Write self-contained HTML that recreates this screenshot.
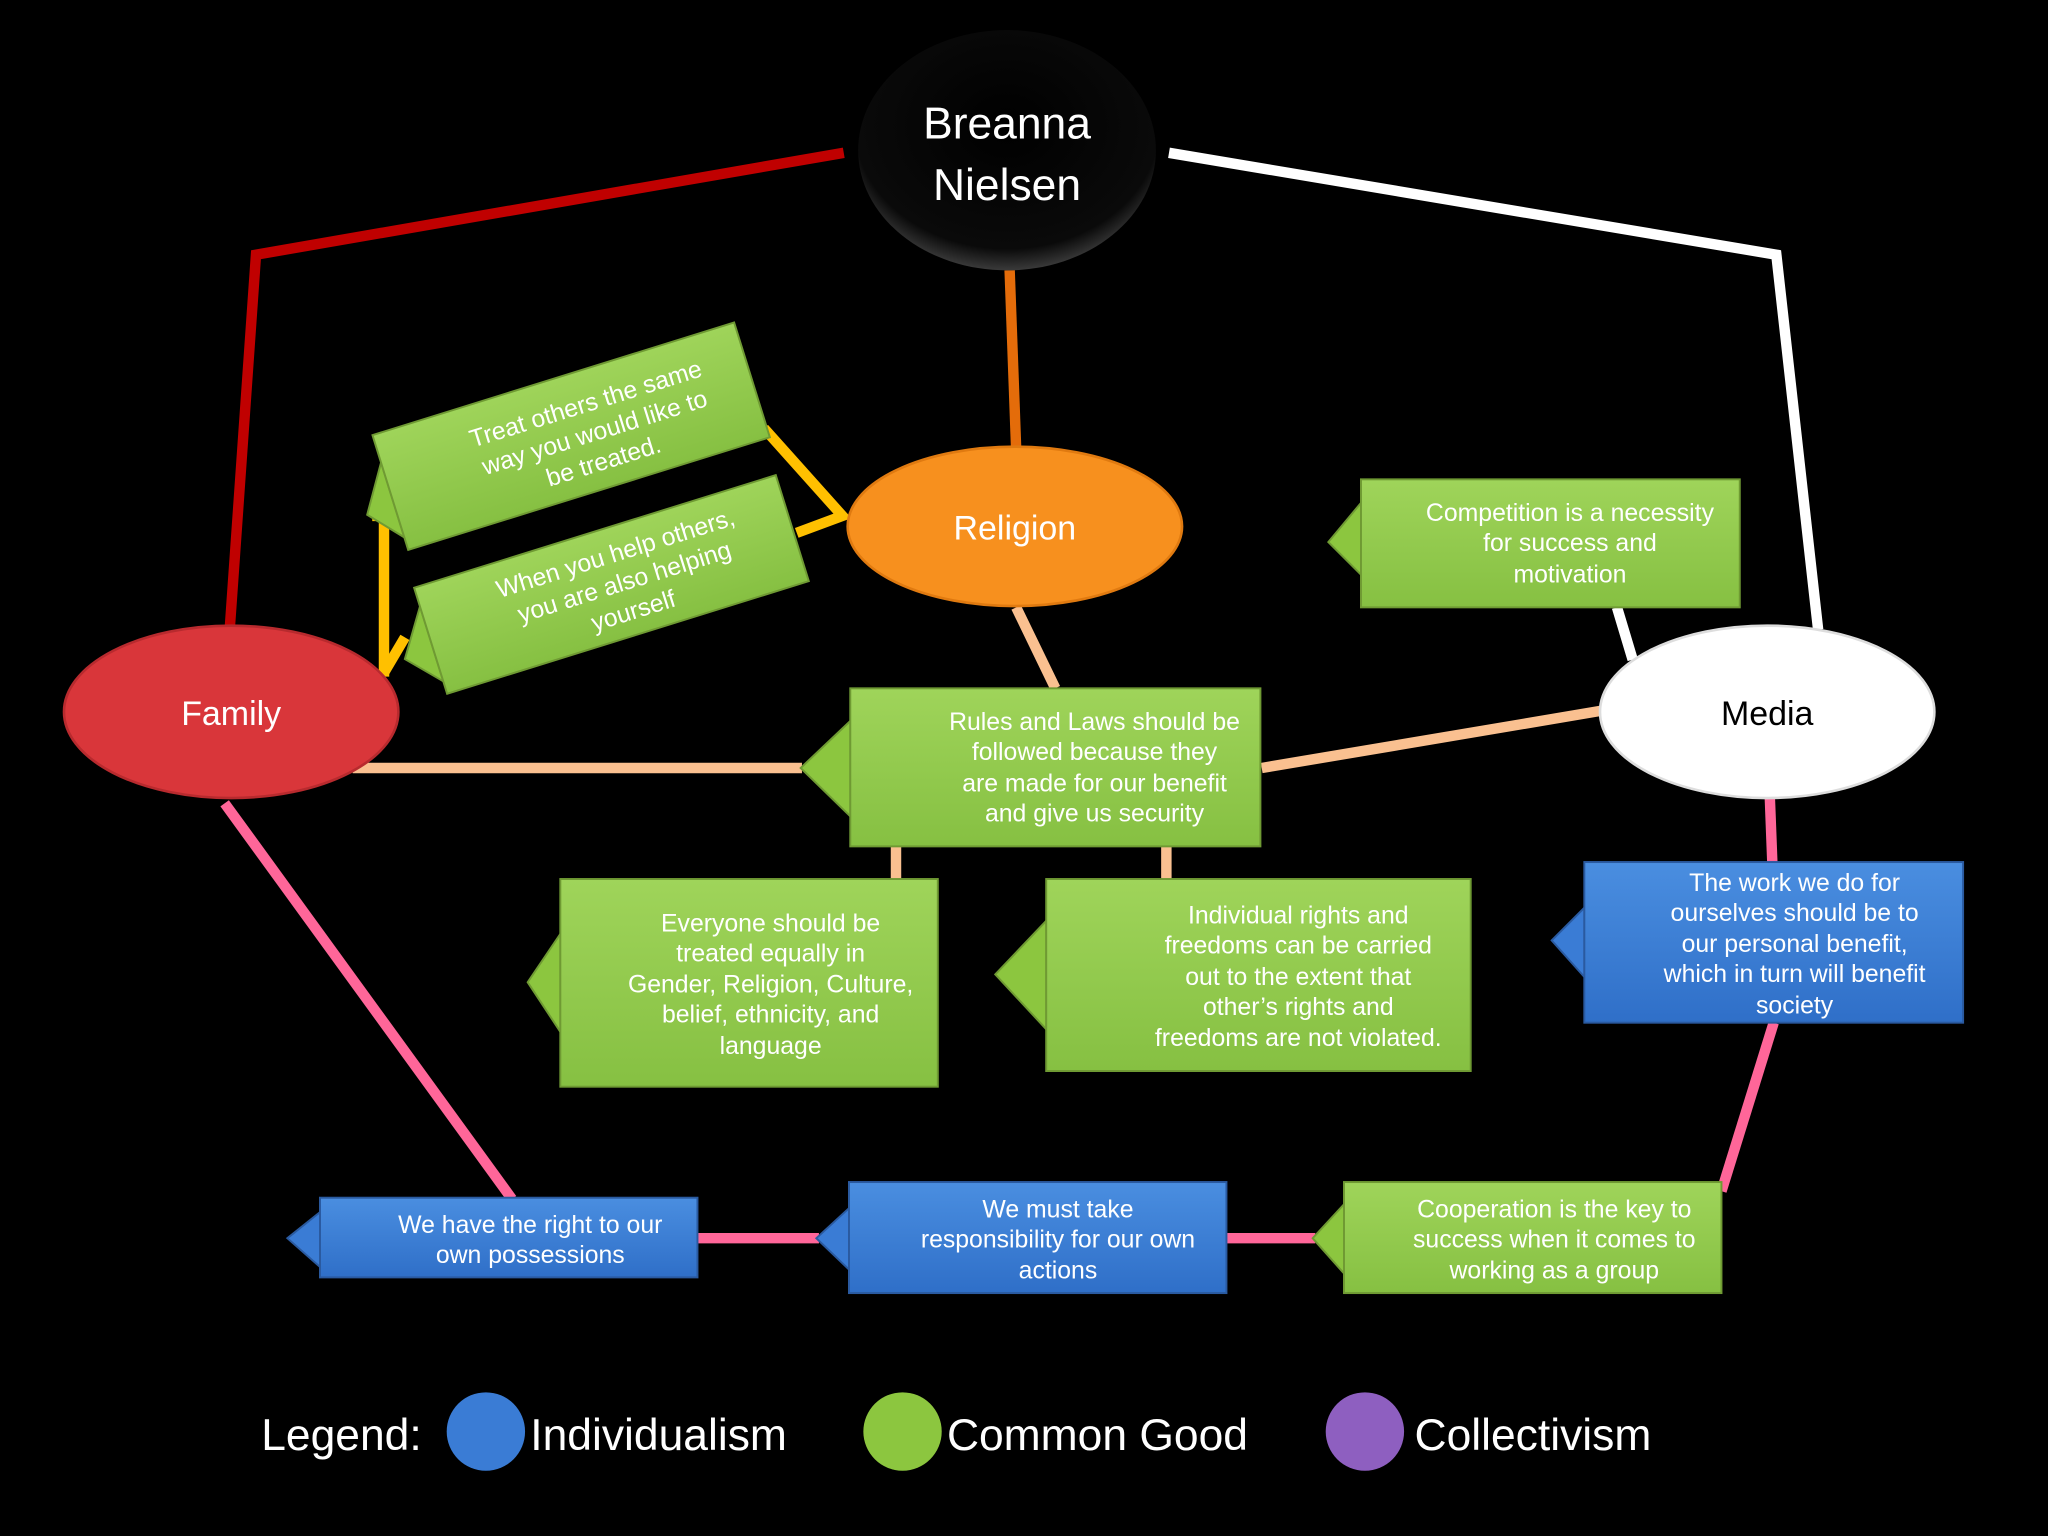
<!DOCTYPE html>
<html><head><meta charset="utf-8"><style>
html,body{margin:0;padding:0;background:#000;}
svg{display:block}
text{font-family:"Liberation Sans","DejaVu Sans",sans-serif;fill:#fff;}
</style></head><body>
<svg width="2048" height="1536" viewBox="0 0 1568 1176" xmlns="http://www.w3.org/2000/svg">
<defs>
<radialGradient id="gBlack" cx="50%" cy="40%" r="60%"><stop offset="0" stop-color="#000"/><stop offset="0.85" stop-color="#0a0a0a"/><stop offset="1" stop-color="#3a3a3a"/></radialGradient>
<linearGradient id="gGreen" x1="0" y1="0" x2="0" y2="1"><stop offset="0" stop-color="#9fd45a"/><stop offset="1" stop-color="#86c042"/></linearGradient>
<linearGradient id="gBlue" x1="0" y1="0" x2="0" y2="1"><stop offset="0" stop-color="#4a8ee0"/><stop offset="1" stop-color="#2f6fc8"/></linearGradient>
</defs>
<rect width="1568" height="1176" fill="#000"/>

<!-- connectors -->
<g fill="none" stroke-width="8" stroke-linejoin="miter">
<polyline points="646,117 196,195 176,480" stroke="#c00000"/>
<polyline points="895,117 1360,195 1392,482" stroke="#fff"/>
<line x1="1238" y1="465" x2="1250" y2="505" stroke="#fff"/>
<line x1="773" y1="207" x2="778" y2="344" stroke="#e46c0a"/>
<line x1="778" y1="465" x2="808" y2="527" stroke="#fac090"/>
<line x1="270" y1="588" x2="614" y2="588" stroke="#fac090"/>
<line x1="966" y1="588" x2="1227" y2="544" stroke="#fac090"/>
<line x1="686" y1="646" x2="686" y2="674" stroke="#fac090"/>
<line x1="893" y1="646" x2="893" y2="674" stroke="#fac090"/>
<polyline points="585,328 645,395 610,408" stroke="#ffc000"/>
<polyline points="285,395 294,395 294,518" stroke="#ffc000"/>
<line x1="294" y1="515" x2="310" y2="488" stroke="#ffc000"/>
<line x1="172" y1="615" x2="392" y2="918" stroke="#ff6699"/>
<line x1="1355" y1="610" x2="1357" y2="662" stroke="#ff6699"/>
<line x1="1358" y1="783" x2="1318" y2="912" stroke="#ff6699"/>
<line x1="534" y1="948" x2="627" y2="948" stroke="#ff6699"/>
<line x1="939" y1="948" x2="1007" y2="948" stroke="#ff6699"/>
</g>

<!-- ellipses -->
<ellipse cx="771" cy="115" rx="114" ry="92" fill="url(#gBlack)"/>
<text x="771" y="106" font-size="34" text-anchor="middle">Breanna</text>
<text x="771" y="153" font-size="34" text-anchor="middle">Nielsen</text>

<ellipse cx="777" cy="403" rx="128" ry="61" fill="#f7901e" stroke="#e07a10" stroke-width="2"/>
<text x="777" y="413" font-size="26" text-anchor="middle">Religion</text>

<ellipse cx="177" cy="545" rx="128" ry="66" fill="#d9363a" stroke="#b82a2e" stroke-width="2"/>
<text x="177" y="555" font-size="26" text-anchor="middle">Family</text>

<ellipse cx="1353" cy="545" rx="128" ry="66" fill="#fff" stroke="#ddd" stroke-width="2"/>
<text x="1353" y="555" font-size="26" text-anchor="middle" style="fill:#000">Media</text>

<!-- green boxes -->
<g stroke="#6f9a33" stroke-width="1.5">
<polygon points="1042,385 1017,415 1042,440" fill="#8cc63f"/>
<rect x="1042" y="367" width="290" height="98" fill="url(#gGreen)"/>
<polygon points="651,552 613,588 651,625" fill="#8cc63f"/>
<rect x="651" y="527" width="314" height="121" fill="url(#gGreen)"/>
<polygon points="429,715 404,752 429,790" fill="#8cc63f"/>
<rect x="429" y="673" width="289" height="159" fill="url(#gGreen)"/>
<polygon points="801,705 762,746 801,788" fill="#8cc63f"/>
<rect x="801" y="673" width="325" height="147" fill="url(#gGreen)"/>
<polygon points="1029,922 1005,948 1029,975" fill="#8cc63f"/>
<rect x="1029" y="905" width="289" height="85" fill="url(#gGreen)"/>
</g>
<g stroke="#2a5aa0" stroke-width="1.5">
<polygon points="1213,695 1188,720 1213,748" fill="#3a7cd5"/>
<rect x="1213" y="660" width="290" height="123" fill="url(#gBlue)"/>
<polygon points="245,928 220,948 245,970" fill="#3a7cd5"/>
<rect x="245" y="917" width="289" height="61" fill="url(#gBlue)"/>
<polygon points="650,925 625,948 650,972" fill="#3a7cd5"/>
<rect x="650" y="905" width="289" height="85" fill="url(#gBlue)"/>
</g>

<!-- rotated boxes -->
<g transform="rotate(-17.3 437 333)" stroke="#6f9a33" stroke-width="1.5">
<polygon points="292,310 270,345 292,370" fill="#8cc63f"/>
<rect x="292" y="288" width="290" height="92" fill="url(#gGreen)"/>
</g>
<g transform="rotate(-17.3 437 333)" font-size="19" text-anchor="middle">
<text x="455" y="320">Treat others the same</text>
<text x="455" y="343">way you would like to</text>
<text x="455" y="366">be treated.</text>
</g>
<g transform="rotate(-17.3 468 447)" stroke="#6f9a33" stroke-width="1.5">
<polygon points="323,420 300,455 323,480" fill="#8cc63f"/>
<rect x="323" y="405" width="290" height="85" fill="url(#gGreen)"/>
</g>
<g transform="rotate(-17.3 468 447)" font-size="19" text-anchor="middle">
<text x="478" y="432">When you help others,</text>
<text x="478" y="455">you are also helping</text>
<text x="478" y="478">yourself</text>
</g>

<!-- box texts -->
<g font-size="19" text-anchor="middle">
<text x="1202" y="399">Competition is a necessity</text>
<text x="1202" y="422">for success and</text>
<text x="1202" y="446">motivation</text>

<text x="838" y="559">Rules and Laws should be</text>
<text x="838" y="582">followed because they</text>
<text x="838" y="606">are made for our benefit</text>
<text x="838" y="629">and give us security</text>

<text x="590" y="713">Everyone should be</text>
<text x="590" y="736">treated equally  in</text>
<text x="590" y="760">Gender, Religion, Culture,</text>
<text x="590" y="783">belief, ethnicity, and</text>
<text x="590" y="807">language</text>

<text x="994" y="707">Individual rights and</text>
<text x="994" y="730">freedoms  can be carried</text>
<text x="994" y="754">out to the extent that</text>
<text x="994" y="777">other’s rights and</text>
<text x="994" y="801">freedoms are not violated.</text>

<text x="1190" y="932">Cooperation is the key to</text>
<text x="1190" y="955">success when it comes to</text>
<text x="1190" y="979">working as a group</text>

<text x="1374" y="682">The work we do for</text>
<text x="1374" y="705">ourselves should be to</text>
<text x="1374" y="729">our personal benefit,</text>
<text x="1374" y="752">which in turn will benefit</text>
<text x="1374" y="776">society</text>

<text x="406" y="944">We have the right to our</text>
<text x="406" y="967">own possessions</text>

<text x="810" y="932">We must take</text>
<text x="810" y="955">responsibility for our own</text>
<text x="810" y="979">actions</text>
</g>

<!-- legend -->
<text x="200" y="1110" font-size="34">Legend:</text>
<circle cx="372" cy="1096" r="30" fill="#3a7cd5"/>
<text x="406" y="1110" font-size="34">Individualism</text>
<circle cx="691" cy="1096" r="30" fill="#8cc63f"/>
<text x="725" y="1110" font-size="34">Common Good</text>
<circle cx="1045" cy="1096" r="30" fill="#8e5fc0"/>
<text x="1083" y="1110" font-size="34">Collectivism</text>
</svg>
</body></html>
